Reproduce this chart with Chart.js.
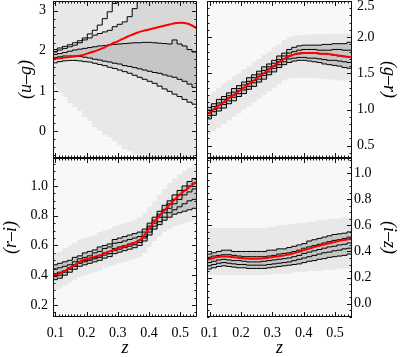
<!DOCTYPE html>
<html><head><meta charset="utf-8">
<script src="https://cdn.jsdelivr.net/npm/chart.js@4/dist/chart.umd.min.js"></script>
<style>
html,body{margin:0;padding:0;background:#fff;}
#wrap{position:relative;width:400px;height:357px;overflow:hidden;background:#fff;}
canvas{position:absolute;}
</style></head><body>
<div id="wrap">
<canvas id="tl" width="200" height="158" style="left:0;top:0;width:200px;height:158px"></canvas>
<canvas id="tr" width="200" height="158" style="left:200px;top:0;width:200px;height:158px"></canvas>
<canvas id="bl" width="200" height="199" style="left:0;top:158px;width:200px;height:199px"></canvas>
<canvas id="br" width="200" height="199" style="left:200px;top:158px;width:200px;height:199px"></canvas>
</div>
<script>
// redshift bin edges
const zEdges = [0.090,0.106,0.122,0.138,0.154,0.170,0.186,0.202,0.218,0.234,0.250,0.266,0.282,0.298,0.314,0.330,0.346,0.362,0.378,0.394,0.410,0.426,0.442,0.458,0.474,0.490,0.506,0.522,0.538,0.554];
const zTicks = [0.1,0.2,0.3,0.4,0.5];

// (u-g) panel
const tlYTicks = [0,1,2,3];
const tlA = [2.03,2.07,2.11,2.15,2.20,2.25,2.32,2.42,2.51,2.64,2.80,2.97,3.18,3.6,3.6,3.6,3.6,3.6,3.6,3.6,3.6,3.6,3.6,3.6,3.6,3.6,3.6,3.6,3.6];
const tlB = [1.97,2.02,2.06,2.10,2.14,2.20,2.27,2.32,2.39,2.43,2.47,2.51,2.60,2.66,2.72,2.85,3.05,3.6,3.6,3.6,3.6,3.6,3.6,3.6,3.6,3.6,3.6,3.6,3.6];
const tlC = [1.91,1.93,1.96,1.99,2.02,2.04,2.06,2.08,2.10,2.12,2.13,2.15,2.16,2.17,2.18,2.19,2.20,2.20,2.21,2.21,2.20,2.19,2.18,2.17,2.27,2.17,2.12,2.03,1.97];
const tlD = [1.83,1.85,1.87,1.87,1.87,1.86,1.84,1.82,1.79,1.77,1.74,1.72,1.69,1.67,1.63,1.61,1.58,1.55,1.52,1.49,1.46,1.44,1.40,1.37,1.34,1.29,1.24,1.17,1.09];
const tlE = [1.70,1.73,1.75,1.76,1.76,1.75,1.73,1.72,1.69,1.66,1.63,1.59,1.56,1.52,1.48,1.44,1.39,1.34,1.29,1.24,1.19,1.12,1.05,0.99,0.92,0.86,0.79,0.72,0.67];
const tlRed = [1.80,1.81,1.82,1.84,1.85,1.87,1.89,1.93,1.97,2.01,2.06,2.12,2.18,2.23,2.29,2.35,2.40,2.45,2.49,2.52,2.55,2.58,2.61,2.64,2.67,2.69,2.70,2.68,2.63,2.56];
const tlHaloLo = [1.1,0.95,0.85,0.7,0.6,0.5,0.35,0.25,0.1,0.0,-0.1,-0.15,-0.25,-0.35,-0.45,-0.5,-0.6,-0.7,-0.7,-0.7,-0.7,-0.7,-0.7,-0.7,-0.7,-0.7,-0.7,-0.7,-0.7];

// (g-r) panel
const trYTicks = [0.5,1.0,1.5,2.0,2.5];
const tr1 = [1.03,1.08,1.14,1.18,1.23,1.29,1.33,1.38,1.44,1.48,1.53,1.59,1.63,1.68,1.74,1.78,1.83,1.86,1.88,1.89,1.89,1.89,1.89,1.90,1.90,1.91,1.91,1.91,1.93];
const tr2 = [0.99,1.04,1.09,1.14,1.19,1.24,1.29,1.34,1.39,1.44,1.49,1.54,1.59,1.64,1.69,1.74,1.78,1.80,1.82,1.83,1.83,1.83,1.82,1.82,1.82,1.83,1.83,1.82,1.82];
const trM = [0.95,1.00,1.06,1.10,1.16,1.20,1.26,1.30,1.36,1.40,1.46,1.50,1.56,1.60,1.66,1.70,1.74,1.76,1.77,1.78,1.78,1.78,1.77,1.77,1.76,1.75,1.74,1.73,1.72];
const tr4 = [0.92,0.97,1.02,1.07,1.12,1.17,1.22,1.27,1.32,1.37,1.42,1.47,1.52,1.57,1.62,1.66,1.70,1.71,1.72,1.72,1.71,1.71,1.70,1.69,1.68,1.68,1.67,1.66,1.65];
const tr5 = [0.87,0.92,0.98,1.02,1.08,1.12,1.18,1.22,1.28,1.32,1.38,1.42,1.48,1.52,1.58,1.62,1.65,1.67,1.68,1.68,1.67,1.66,1.65,1.63,1.62,1.61,1.60,1.58,1.57];
const trRed = [0.93,0.98,1.03,1.08,1.13,1.18,1.23,1.28,1.33,1.38,1.43,1.48,1.53,1.58,1.63,1.68,1.72,1.75,1.77,1.78,1.78,1.78,1.78,1.77,1.77,1.76,1.75,1.74,1.73,1.72];
const trHaloLo = [0.65,0.70,0.75,0.80,0.85,0.90,0.95,1.00,1.05,1.10,1.15,1.20,1.25,1.30,1.35,1.40,1.43,1.44,1.44,1.44,1.44,1.43,1.43,1.42,1.42,1.41,1.40,1.40,1.40];
const trHaloHi = [1.20,1.25,1.30,1.36,1.40,1.46,1.50,1.56,1.60,1.66,1.70,1.76,1.80,1.86,1.90,1.96,2.00,2.02,2.03,2.03,2.04,2.04,2.04,2.04,2.04,2.05,2.05,2.05,2.05];

// (r-i) panel
const blYTicks = [0.2,0.4,0.6,0.8,1.0];
const bl1 = [0.47,0.48,0.49,0.50,0.52,0.53,0.55,0.56,0.57,0.59,0.60,0.61,0.64,0.65,0.66,0.67,0.68,0.69,0.71,0.75,0.79,0.83,0.87,0.90,0.94,0.97,1.00,1.03,1.05];
const bl2 = [0.44,0.45,0.46,0.47,0.49,0.51,0.52,0.53,0.55,0.56,0.58,0.59,0.615,0.62,0.63,0.64,0.65,0.66,0.69,0.73,0.77,0.81,0.84,0.88,0.91,0.94,0.97,1.00,1.02];
const blM = [0.41,0.42,0.43,0.45,0.47,0.49,0.50,0.51,0.52,0.53,0.55,0.56,0.58,0.59,0.60,0.61,0.62,0.635,0.66,0.71,0.75,0.79,0.82,0.85,0.88,0.91,0.94,0.96,0.98];
const bl4 = [0.39,0.40,0.42,0.44,0.46,0.48,0.49,0.50,0.51,0.52,0.535,0.545,0.565,0.575,0.585,0.595,0.605,0.62,0.65,0.69,0.73,0.76,0.79,0.82,0.84,0.86,0.88,0.90,0.91];
const bl5 = [0.37,0.38,0.40,0.42,0.44,0.46,0.47,0.48,0.49,0.50,0.515,0.525,0.545,0.555,0.565,0.575,0.585,0.60,0.63,0.67,0.71,0.74,0.77,0.79,0.81,0.82,0.83,0.84,0.85];
const blRed = [0.395,0.405,0.42,0.44,0.46,0.48,0.50,0.51,0.52,0.53,0.54,0.555,0.565,0.58,0.59,0.60,0.615,0.625,0.65,0.695,0.74,0.78,0.82,0.855,0.89,0.925,0.955,0.98,1.005,1.03];
const blHaloLo = [0.30,0.31,0.33,0.35,0.37,0.39,0.40,0.41,0.42,0.43,0.45,0.46,0.47,0.48,0.49,0.50,0.51,0.52,0.55,0.59,0.63,0.66,0.69,0.71,0.73,0.74,0.75,0.76,0.77];
const blHaloHi = [0.55,0.56,0.58,0.60,0.62,0.64,0.65,0.66,0.67,0.69,0.70,0.71,0.73,0.74,0.75,0.76,0.77,0.79,0.82,0.86,0.90,0.94,0.98,1.02,1.05,1.08,1.10,1.12,1.14];

// (i-z) panel
const brYTicks = [0.0,0.2,0.4,0.6,0.8,1.0];
const br1 = [0.38,0.39,0.40,0.41,0.41,0.40,0.40,0.40,0.40,0.40,0.40,0.40,0.41,0.41,0.42,0.42,0.43,0.44,0.45,0.46,0.48,0.49,0.50,0.51,0.52,0.53,0.535,0.54,0.55];
const br2 = [0.355,0.365,0.37,0.375,0.375,0.37,0.365,0.36,0.36,0.36,0.36,0.36,0.365,0.37,0.38,0.385,0.39,0.40,0.41,0.425,0.435,0.445,0.455,0.465,0.475,0.485,0.49,0.50,0.51];
const brM = [0.315,0.325,0.335,0.34,0.335,0.33,0.33,0.325,0.32,0.32,0.32,0.325,0.33,0.335,0.34,0.345,0.35,0.36,0.37,0.385,0.395,0.405,0.415,0.425,0.435,0.44,0.45,0.455,0.465];
const br4 = [0.29,0.30,0.31,0.315,0.31,0.305,0.30,0.30,0.295,0.295,0.295,0.295,0.30,0.305,0.31,0.315,0.32,0.33,0.34,0.35,0.36,0.37,0.38,0.39,0.395,0.405,0.41,0.42,0.425];
const br5 = [0.265,0.275,0.285,0.29,0.285,0.28,0.275,0.275,0.27,0.27,0.27,0.27,0.275,0.28,0.285,0.29,0.295,0.30,0.305,0.315,0.325,0.33,0.34,0.345,0.355,0.36,0.365,0.37,0.38];
const brRed = [0.335,0.345,0.355,0.362,0.362,0.358,0.354,0.350,0.347,0.345,0.345,0.346,0.350,0.355,0.361,0.367,0.374,0.383,0.393,0.404,0.416,0.428,0.439,0.449,0.458,0.467,0.476,0.485,0.492,0.498];
const brHaloLo = [0.22,0.22,0.22,0.22,0.22,0.22,0.22,0.22,0.22,0.22,0.22,0.22,0.22,0.23,0.23,0.23,0.23,0.24,0.24,0.24,0.25,0.25,0.25,0.26,0.26,0.26,0.27,0.27,0.27];
const brHaloHi = [0.58,0.58,0.58,0.58,0.58,0.58,0.58,0.58,0.58,0.58,0.58,0.58,0.59,0.59,0.60,0.60,0.61,0.61,0.62,0.62,0.63,0.63,0.64,0.64,0.65,0.65,0.65,0.66,0.66];

const FONT = "'Liberation Serif', 'DejaVu Serif', serif";
const CORE = '#c6c6c6', MID = '#d8d8d8', HALO = '#e8e8e8';

function stepData(vals){
  const pts = vals.map((v,i)=>({x:zEdges[i], y:v}));
  pts.push({x:zEdges[vals.length], y:vals[vals.length-1]});
  return pts;
}
function curveData(vals){ return vals.map((v,i)=>({x:zEdges[i], y:v})); }

function framePlugin(p){
  return {
    id:'frame_'+p.id,
    beforeDraw(chart){
      const a = chart.chartArea, ctx = chart.ctx;
      ctx.save(); ctx.fillStyle = '#f8f8f8';
      ctx.fillRect(a.left, a.top, a.right-a.left, a.bottom-a.top);
      ctx.restore();
    },
    afterDraw(chart){
      const a = chart.chartArea, ctx = chart.ctx, x = chart.scales.x, y = chart.scales.y;
      ctx.save();
      ctx.strokeStyle = '#111'; ctx.lineWidth = 1;
      ctx.beginPath();
      const xs = 0.01;
      for (let n = Math.ceil(x.min/xs - 1e-6); n <= Math.floor(x.max/xs + 1e-6); n++){
        const px = Math.round(x.getPixelForValue(n*xs)) + 0.5;
        const len = (n % 10 === 0) ? 5 : 2.5;
        ctx.moveTo(px, a.bottom); ctx.lineTo(px, a.bottom - len);
        ctx.moveTo(px, a.top); ctx.lineTo(px, a.top + len);
      }
      const ys = p.yMinor, ev = p.yEvery;
      for (let n = Math.ceil(y.min/ys - 1e-6); n <= Math.floor(y.max/ys + 1e-6); n++){
        const py = Math.round(y.getPixelForValue(n*ys)) + 0.5;
        const len = (((n % ev) + ev) % ev === 0) ? 5 : 2.5;
        ctx.moveTo(a.left, py); ctx.lineTo(a.left + len, py);
        ctx.moveTo(a.right, py); ctx.lineTo(a.right - len, py);
      }
      ctx.stroke();
      ctx.strokeRect(Math.round(a.left)+0.5, Math.round(a.top)+0.5, Math.round(a.right-a.left)-1, Math.round(a.bottom-a.top)-1);
      ctx.restore();
    }
  };
}

function makePanel(p){
  const datasets = [];
  datasets.push({data:curveData(p.red), borderColor:'#ff0000', borderWidth:2, cubicInterpolationMode:'monotone', pointRadius:0, fill:false, clip:0});
  p.lines.forEach(l=>datasets.push({data:stepData(l), borderColor:'#000000', borderWidth:1, stepped:true, pointRadius:0, fill:false, clip:0}));
  p.fills.forEach(f=>{
    if (f.hi === 'end'){
      datasets.push({data:stepData(f.lo), borderColor:'rgba(0,0,0,0)', borderWidth:0, stepped:true, pointRadius:0, fill:'end', backgroundColor:f.color, clip:0});
    } else {
      datasets.push({data:stepData(f.hi), borderColor:'rgba(0,0,0,0)', borderWidth:0, stepped:true, pointRadius:0, fill:'+1', backgroundColor:f.color, clip:0});
      datasets.push({data:stepData(f.lo), borderColor:'rgba(0,0,0,0)', borderWidth:0, stepped:true, pointRadius:0, fill:false, clip:0});
    }
  });
  const tickFont = (c) => ({family:FONT, size:14, lineHeight: (p.shiftTop && c.tick && c.tick.value === p.shiftTop) ? 0.8 : 1.2});
  new Chart(document.getElementById(p.id), {
    type:'line',
    data:{datasets},
    options:{
      responsive:false, animation:false, devicePixelRatio:1,
      layout:{padding:{left:p.padL, right:p.padR, top:p.padT, bottom:0}},
      plugins:{legend:{display:false}, tooltip:{enabled:false}, filler:{drawTime:'beforeDatasetsDraw', propagate:false}},
      scales:{
        x:{type:'linear', min:0.092, max:0.554, display:p.showX, position:'bottom',
          grid:{display:false, drawTicks:false}, border:{display:false},
          ticks:{font:{family:FONT, size:14}, color:'#000', padding:8, maxRotation:0, autoSkip:false, callback:(v)=>Number(v).toFixed(1)},
          afterBuildTicks:(s)=>{ s.ticks = zTicks.map(v=>({value:v})); },
          afterFit:(s)=>{ s.height = p.showX ? 40 : 0; s.paddingLeft = 0; s.paddingRight = 0; },
          title:{display:true, text:'z', color:'#000', font:{family:FONT, size:18, style:'italic', lineHeight:1}, padding:{top:0, bottom:0}}
        },
        y:{type:'linear', position:p.side, min:p.yMin, max:p.yMax,
          grid:{display:false, drawTicks:false}, border:{display:false},
          ticks:{font:tickFont, color:'#000', padding:p.labelPad, autoSkip:false,
            callback:(v)=> (p.shiftTop && v === p.shiftTop) ? ['', p.fmt(v)] : p.fmt(v)},
          afterBuildTicks:(s)=>{ s.ticks = p.yTicks.map(v=>({value:v})); },
          afterFit:(s)=>{ s.width = p.yWidth; s.paddingTop = 0; s.paddingBottom = 0; },
          title:{display:true, text:p.yTitle, color:'#000', font:{family:FONT, size:18, style:'italic'}, padding:{top:p.titlePad, bottom:0}}
        }
      }
    },
    plugins:[framePlugin(p)]
  });
}

const intFmt = (v)=>String(Math.round(v));
const oneFmt = (v)=>Number(v).toFixed(1);

makePanel({id:'tl', side:'left', padL:0, padR:3, padT:1, yWidth:53, labelPad:7, titlePad:15, showX:false,
  yMin:-0.67, yMax:3.24, yTicks:tlYTicks, yMinor:0.2, yEvery:5, fmt:intFmt, yTitle:'(u\u2013g)',
  red:tlRed, lines:[tlA, tlB, tlC, tlD, tlE],
  fills:[{hi:tlC, lo:tlD, color:CORE},{hi:tlB, lo:tlE, color:MID},{hi:'end', lo:tlHaloLo, color:HALO}]});

makePanel({id:'tr', side:'right', padL:7, padR:0, padT:1, yWidth:48, labelPad:5, titlePad:0, showX:false,
  yMin:0.33, yMax:2.5, yTicks:trYTicks, yMinor:0.1, yEvery:5, fmt:oneFmt, yTitle:'(g\u2013r)', shiftTop:2.5,
  red:trRed, lines:[tr1, tr2, trM, tr4, tr5],
  fills:[{hi:tr1, lo:tr5, color:CORE},{hi:trHaloHi, lo:trHaloLo, color:HALO}]});

makePanel({id:'bl', side:'left', padL:0, padR:3, padT:0, yWidth:53, labelPad:5, titlePad:0, showX:true,
  yMin:0.119, yMax:1.188, yTicks:blYTicks, yMinor:0.05, yEvery:4, fmt:oneFmt, yTitle:'(r\u2013i)',
  red:blRed, lines:[bl1, bl2, blM, bl4, bl5],
  fills:[{hi:bl1, lo:bl5, color:CORE},{hi:blHaloHi, lo:blHaloLo, color:HALO}]});

makePanel({id:'br', side:'right', padL:7, padR:0, padT:0, yWidth:48, labelPad:2, titlePad:0, showX:true,
  yMin:-0.102, yMax:1.116, yTicks:brYTicks, yMinor:0.05, yEvery:4, fmt:oneFmt, yTitle:'(i\u2013z)',
  red:brRed, lines:[br1, br2, brM, br4, br5],
  fills:[{hi:br1, lo:br5, color:CORE},{hi:brHaloHi, lo:brHaloLo, color:HALO}]});
</script>
</body></html>
